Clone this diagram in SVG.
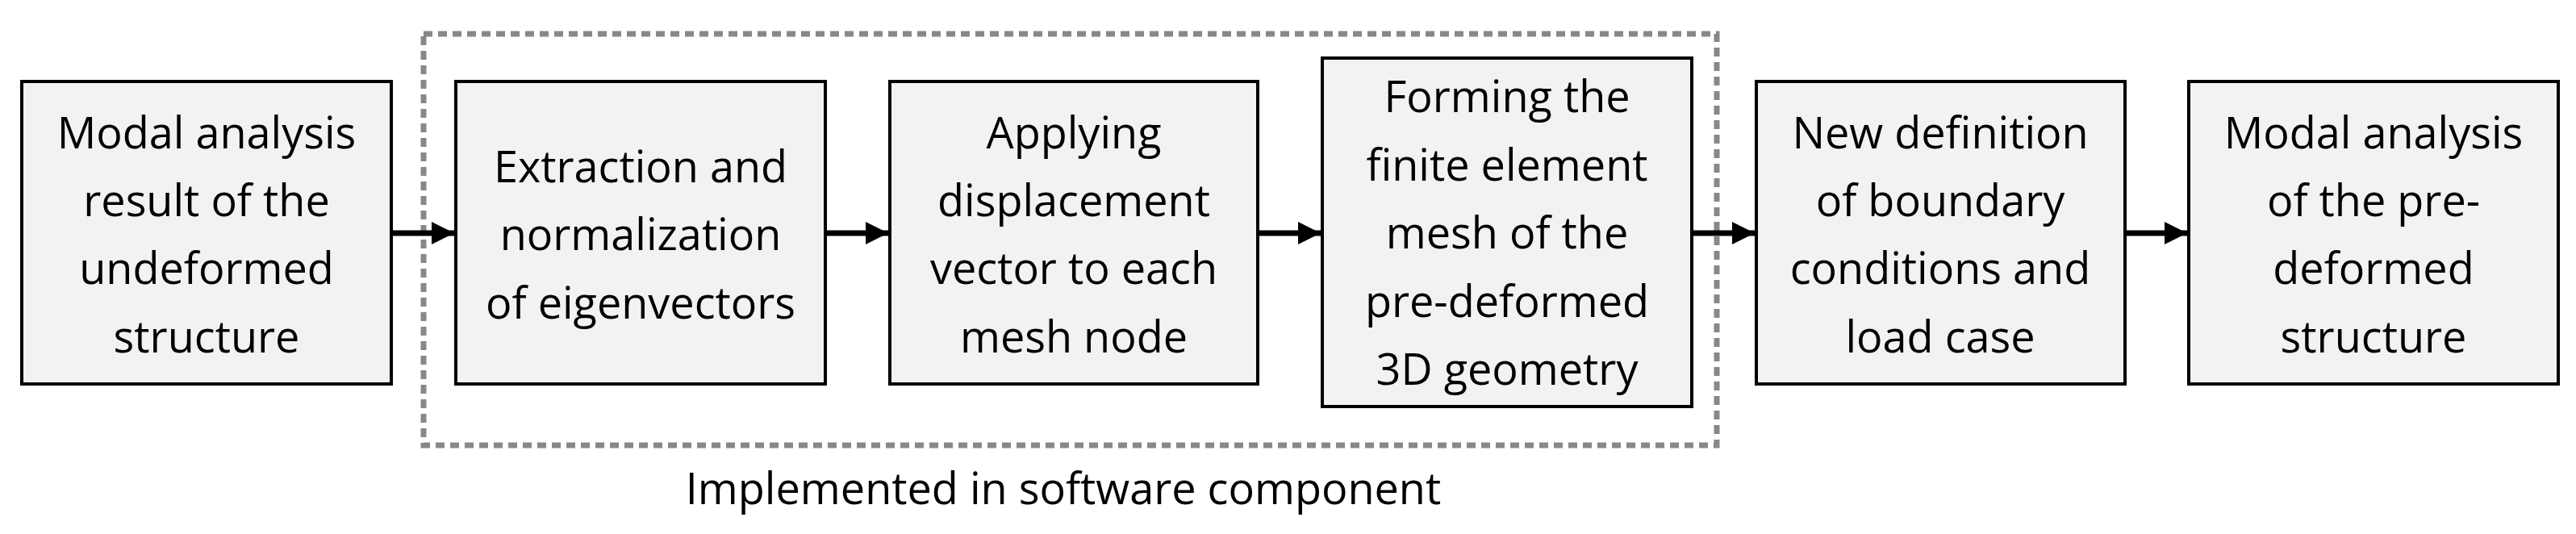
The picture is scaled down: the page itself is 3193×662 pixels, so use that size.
<svg xmlns="http://www.w3.org/2000/svg" width="3193" height="662" viewBox="0 0 3193 662">
<style>
.b{fill:#f2f2f2;stroke:#000;stroke-width:4}
.t{font-family:"Open Sans","Liberation Sans",sans-serif;font-size:54px;text-anchor:middle;fill:#000}
.c{stroke:#000;stroke-width:7;fill:none}
</style>
<defs><marker id="a" markerWidth="4" markerHeight="4" refX="4" refY="2" orient="auto" markerUnits="strokeWidth"><path d="M0,0L4,2L0,4z" fill="#000"/></marker></defs>
<rect x="525" y="42" width="1603" height="510" fill="none" stroke="#888" stroke-width="7" stroke-dasharray="11,7"/>
<g id="connectors">
<line class="c" x1="487" y1="289" x2="563" y2="289" marker-end="url(#a)"/>
<line class="c" x1="1025" y1="289" x2="1101" y2="289" marker-end="url(#a)"/>
<line class="c" x1="1561" y1="289" x2="1637" y2="289" marker-end="url(#a)"/>
<line class="c" x1="2099" y1="289" x2="2175" y2="289" marker-end="url(#a)"/>
<line class="c" x1="2636" y1="289" x2="2711" y2="289" marker-end="url(#a)"/>
</g>
<g id="n1"><rect class="b" x="27" y="101" width="458" height="375"/><text class="t"><tspan x="256" y="184">Modal analysis</tspan><tspan x="256" y="268">result of the</tspan><tspan x="256" y="352">undeformed</tspan><tspan x="256" y="437">structure</tspan></text></g>
<g id="n2"><rect class="b" x="565" y="101" width="458" height="375"/><text class="t"><tspan x="794" y="226">Extraction and</tspan><tspan x="794" y="310">normalization</tspan><tspan x="794" y="395">of eigenvectors</tspan></text></g>
<g id="n3"><rect class="b" x="1103" y="101" width="456" height="375"/><text class="t"><tspan x="1331" y="184">Applying</tspan><tspan x="1331" y="268">displacement</tspan><tspan x="1331" y="352">vector to each</tspan><tspan x="1331" y="437">mesh node</tspan></text></g>
<g id="n4"><rect class="b" x="1639" y="72" width="458" height="432"/><text class="t"><tspan x="1868" y="139">Forming the</tspan><tspan x="1868" y="224">finite element</tspan><tspan x="1868" y="308">mesh of the</tspan><tspan x="1868" y="393">pre-deformed</tspan><tspan x="1868" y="477">3D geometry</tspan></text></g>
<g id="n5"><rect class="b" x="2177" y="101" width="457" height="375"/><text class="t"><tspan x="2405" y="184">New definition</tspan><tspan x="2405" y="268">of boundary</tspan><tspan x="2405" y="352">conditions and</tspan><tspan x="2405" y="437">load case</tspan></text></g>
<g id="n6"><rect class="b" x="2713" y="101" width="458" height="375"/><text class="t"><tspan x="2942" y="184">Modal analysis</tspan><tspan x="2942" y="268">of the pre-</tspan><tspan x="2942" y="352">deformed</tspan><tspan x="2942" y="437">structure</tspan></text></g>
<text class="t" x="1318" y="625">Implemented in software component</text>
</svg>
